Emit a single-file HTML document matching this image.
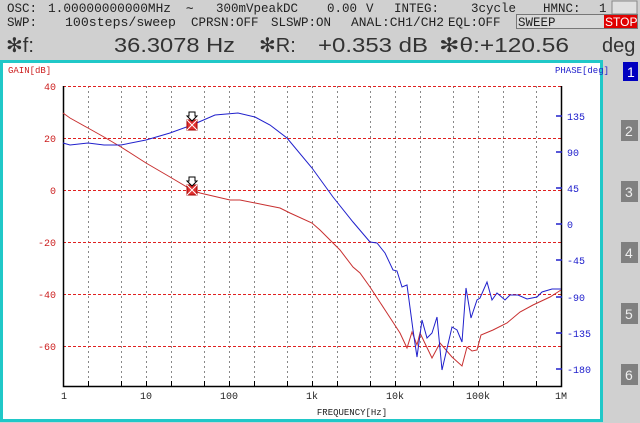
<!DOCTYPE html>
<html><head><meta charset="utf-8"><style>
body{margin:0;width:640px;height:423px;overflow:hidden;background:#d0d0d0;}
</style></head><body>
<svg width="640" height="423" xmlns="http://www.w3.org/2000/svg" style="position:absolute;left:0;top:0">
<rect width="640" height="423" fill="#d0d0d0"/>
<rect x="612" y="1" width="25" height="13" fill="#e0e0e0" stroke="#888"/>
<rect x="516.5" y="14.5" width="121" height="14" fill="#d8d8d8" stroke="#777"/>
<rect x="604" y="15" width="33" height="13" fill="#e00000"/>
<g font-family="Liberation Mono, DejaVu Sans Mono, monospace" font-size="12.5" fill="#222">
<text x="7" y="12">OSC:</text>
<text x="48" y="12" textLength="123" lengthAdjust="spacingAndGlyphs">1.00000000000MHz</text>
<text x="186" y="12">∼</text>
<text x="216" y="12">300mVpeak</text>
<text x="283" y="12">DC</text>
<text x="327" y="12">0.00</text>
<text x="366" y="12">V</text>
<text x="394" y="12">INTEG:</text>
<text x="471" y="12">3cycle</text>
<text x="543" y="12">HMNC:</text>
<text x="599" y="12">1</text>
<text x="7" y="26">SWP:</text>
<text x="65" y="26" textLength="111" lengthAdjust="spacingAndGlyphs">100steps/sweep</text>
<text x="191" y="26">CPRSN:OFF</text>
<text x="271" y="26">SLSWP:ON</text>
<text x="351" y="26" textLength="93" lengthAdjust="spacingAndGlyphs">ANAL:CH1/CH2</text>
<text x="448" y="26">EQL:OFF</text>
<text x="518" y="26">SWEEP</text>
<text x="605" y="26" fill="#fff" font-family="Liberation Sans,sans-serif" font-size="12">STOP</text>
</g>
<g font-family="Liberation Sans, DejaVu Sans, sans-serif" font-size="20" fill="#333">
<text x="6" y="52">✻f:</text>
<text x="114" y="52" textLength="121" lengthAdjust="spacingAndGlyphs">36.3078 Hz</text>
<text x="259" y="52">✻R:</text>
<text x="318" y="52" textLength="110" lengthAdjust="spacingAndGlyphs">+0.353 dB</text>
<text x="439" y="52" textLength="130" lengthAdjust="spacingAndGlyphs">✻θ:+120.56</text>
<text x="602" y="52">deg</text>
</g>
<rect x="1.5" y="61.5" width="600" height="359" fill="#fff" stroke="#20c8c8" stroke-width="3"/>
<rect x="623" y="62" width="15" height="19" fill="#0000c0"/><text x="627" y="77" font-family="Liberation Sans,sans-serif" font-size="14" fill="#fff">1</text>
<g font-family="Liberation Sans,sans-serif" font-size="14" fill="#eee">
<rect x="621" y="120" width="17" height="21" fill="#808080"/><text x="625" y="136">2</text>
<rect x="621" y="181" width="17" height="21" fill="#808080"/><text x="625" y="197">3</text>
<rect x="621" y="242" width="17" height="21" fill="#808080"/><text x="625" y="258">4</text>
<rect x="621" y="303" width="17" height="21" fill="#808080"/><text x="625" y="319">5</text>
<rect x="621" y="364" width="17" height="21" fill="#808080"/><text x="625" y="380">6</text>
</g>
<text x="8" y="73" font-family="Liberation Mono,monospace" font-size="9" fill="#cc2020">GAIN[dB]</text>
<text x="555" y="73" font-family="Liberation Mono,monospace" font-size="9" fill="#2020cc">PHASE[deg]</text>
<g stroke="#888" stroke-dasharray="2,3" stroke-width="1">
<path d="M88.5 86V386M121.5 86V386M146.5 86V386M171.5 86V386M204.5 86V386M229.5 86V386M254.5 86V386M287.5 86V386M312.5 86V386M337.5 86V386M370.5 86V386M395.5 86V386M420.5 86V386M453.5 86V386M478.5 86V386M503.5 86V386M536.5 86V386"/>
</g>
<g stroke="#e02020" stroke-dasharray="3,2" stroke-width="1">
<path d="M63 86.5H561M63 138.5H561M63 190.5H561M63 242.5H561M63 294.5H561M63 346.5H561"/>
</g>
<path d="M63.5 86V386.5H561.5V86" fill="none" stroke="#000" stroke-width="1.5"/>
<g stroke="#000"><path d="M88.5 386v-5M121.5 386v-5M146.5 386v-5M171.5 386v-5M204.5 386v-5M229.5 386v-5M254.5 386v-5M287.5 386v-5M312.5 386v-5M337.5 386v-5M370.5 386v-5M395.5 386v-5M420.5 386v-5M453.5 386v-5M478.5 386v-5M503.5 386v-5M536.5 386v-5"/></g>
<g stroke="#2020cc" stroke-width="1.5"><path d="M556 116h6M556 152h6M556 188h6M556 224h6M556 260h6M556 297h6M556 333h6M556 369h6"/></g>
<g font-family="Liberation Mono,monospace" font-size="10" fill="#cc2020" text-anchor="end">
<text x="56" y="90">40</text><text x="56" y="142">20</text><text x="56" y="194">0</text><text x="56" y="246">-20</text><text x="56" y="298">-40</text><text x="56" y="350">-60</text></g>
<g font-family="Liberation Mono,monospace" font-size="10" fill="#2020cc">
<text x="567" y="120">135</text><text x="567" y="156">90</text><text x="567" y="192">45</text><text x="567" y="228">0</text><text x="567" y="264">-45</text><text x="567" y="301">-90</text><text x="567" y="337">-135</text><text x="567" y="373">-180</text></g>
<g font-family="Liberation Mono,monospace" font-size="10" fill="#222" text-anchor="middle">
<text x="64" y="399">1</text><text x="146" y="399">10</text><text x="229" y="399">100</text><text x="312" y="399">1k</text><text x="395" y="399">10k</text><text x="478" y="399">100k</text><text x="561" y="399">1M</text>
<text x="352" y="415" font-size="9">FREQUENCY[Hz]</text></g>
<polyline fill="none" stroke="#c83030" stroke-width="1" points="63,113 70,118 88,128 104,137 121,147 146,163 170,177 192,190 200,193 230,200 240,200 265,205 280,208 290,213 312,223 320,230 333,243 340,250 353,267 360,273 370,287 387,313 400,333 407,348 412,332 417,345 420,333 432,358 440,343 452,357 462,366 467,347 472,351 477,350 481,335 493,330 507,323 520,312 533,305 550,297 561,290"/>
<polyline fill="none" stroke="#2020cc" stroke-width="1" points="63,143 70,145 88,143 104,145 121,145 146,140 170,133 192,125 215,115 238,113 255,117 270,125 287,138 312,168 333,197 353,222 370,242 377,243 385,253 393,270 397,271 402,287 407,285 413,330 417,357 422,320 427,338 432,333 437,317 442,370 452,327 457,330 462,342 466,288 471,318 477,300 480,298 487,282 492,300 497,293 505,300 510,295 518,295 527,299 537,297 542,292 552,289 561,289"/>
<g>
<rect x="187" y="120" width="10" height="10" fill="#e03030" stroke="#a00000"/><path d="M187 120l10 10M197 120l-10 10" stroke="#fff"/>
<path d="M189 112h6v4h2l-5 5l-5-5h2z" fill="#fff" stroke="#000"/>
<rect x="187" y="185" width="10" height="10" fill="#e03030" stroke="#a00000"/><path d="M187 185l10 10M197 185l-10 10" stroke="#fff"/>
<path d="M189 177h6v4h2l-5 5l-5-5h2z" fill="#fff" stroke="#000"/>
</g>
</svg>
</body></html>
